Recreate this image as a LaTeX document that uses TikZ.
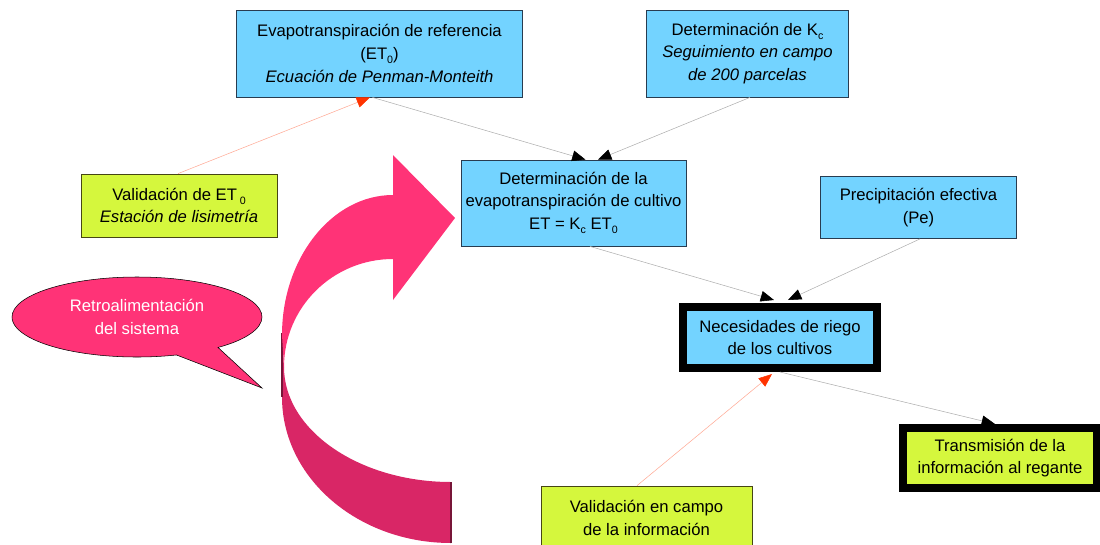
\documentclass[tikz,border=0pt]{standalone}
\usepackage{fontspec}
\setmainfont{Liberation Sans}
\usetikzlibrary{arrows.meta,shapes.callouts}
\definecolor{skyfill}{RGB}{115,211,255}
\definecolor{limefill}{RGB}{213,247,61}
\definecolor{hotpink}{RGB}{255,51,119}
\definecolor{deeppink}{RGB}{217,38,102}
\definecolor{boxedge}{RGB}{40,60,80}
\definecolor{oliveedge}{RGB}{70,70,20}
\definecolor{wire}{RGB}{175,175,175}
\definecolor{wirered}{RGB}{255,170,150}
\definecolor{tipred}{RGB}{255,51,0}
\newcommand{\low}[1]{\raisebox{-0.5ex}{\footnotesize #1}}

\begin{document}
\begin{tikzpicture}[x=0.75pt, y=-0.75pt,
	every node/.style={font=\fontsize{12.5}{17}\selectfont, align=center, inner sep=0pt},
	bluebox/.style={draw=boxedge, fill=skyfill, line width=0.6pt},
	limebox/.style={draw=oliveedge, fill=limefill, line width=0.6pt},
	heavy/.style={draw=black, line width=6pt},
	link/.style={draw=wire, line width=0.4pt, -{Triangle[length=10pt, width=8pt, color=black]}},
	check/.style={draw=wirered, line width=0.4pt, -{Triangle[length=10pt, width=8pt, color=tipred]}}]
		%%%%% START %%%%%
		\useasboundingbox (0,0) rectangle (1100,544);
		
		\fill[deeppink] (282,333) -- (282,397) .. controls (282,478) and (358,543) .. (451,543) -- (451,482) .. controls (359,482) and (284,430) .. (284,367) -- cycle;
		\draw[deeppink!55!black, line width=0.8pt] (282,333) -- (282,397);
		\draw[deeppink!55!black, line width=0.8pt] (451,482) -- (451,543);
		\fill[hotpink] (393,195) -- (393,155) -- (455,218) -- (393,300) -- (393,259) .. controls (333,259) and (284,307) .. (284,367) -- (282,335) .. controls (282,258) and (332,195) .. (393,195) -- cycle;
		
		\coordinate (fbtip) at (262,388);
		\node[ellipse callout, draw=black, fill=hotpink, text=white, minimum width=187.5pt, minimum height=60pt, callout absolute pointer={(fbtip)}, callout pointer arc=22] (fb) at (137,317) {Retroalimentación\\del sistema};
		
		\node[bluebox, minimum width=214.5pt, minimum height=65.25pt] (et0) at (379.5,53.5) {Evapotranspiración de referencia\\(ET\low{0})\\\textit{Ecuación de Penman-Monteith}};
		\node[bluebox, minimum width=151.5pt, minimum height=65.25pt] (kc) at (747.5,53.5) {Determinación de K\low{c}\\\textit{Seguimiento en campo}\\\textit{de 200 parcelas}};
		\node[limebox, minimum width=147pt, minimum height=47.25pt] (valet0) at (179,205.5) {Validación de ET\,\low{0}\\\textit{Estación de lisimetría}};
		\node[bluebox, minimum width=168.75pt, minimum height=64.5pt] (etc) at (573.5,203) {Determinación de la\\evapotranspiración de cultivo\\ET = K\low{c} ET\low{0}};
		\node[bluebox, minimum width=147pt, minimum height=46.5pt] (pe) at (918.5,207.5) {Precipitación efectiva\\(Pe)};
		
		\node[heavy, fill=skyfill, minimum width=145.5pt, minimum height=45.75pt] (need) at (780,337.5) {Necesidades de riego\\de los cultivos};
		\node[heavy, fill=limefill, minimum width=145.5pt, minimum height=45pt] (trans) at (1000,458) {Transmisión de la\\información al regante};
		\node[limebox, minimum width=158.25pt, minimum height=48pt] (valcampo) at (646.5,518) {Validación en campo\\de la información};
		
		\draw[check] ([shift={(-1,0)}]valet0.north) -- ([shift={(-9.5,0)}]et0.south);
		\draw[link] ([shift={(-7,0)}]et0.south) -- ([shift={(12,0)}]etc.north);
		\draw[link] ([shift={(2.5,0)}]kc.south) -- ([shift={(24.5,0)}]etc.north);
		\draw[link] ([shift={(16.5,0)}]etc.south) -- ([shift={(-6,-3)}]need.north);
		\draw[link] ([shift={(1.5,0)}]pe.south) -- ([shift={(8,-3)}]need.north);
		\draw[link] (need.south) -- ([shift={(-5,0)}]trans.north);
		\draw[check] ([shift={(-9.5,0)}]valcampo.north) -- ([shift={(-8,2)}]need.south);
		
		%%%%% END %%%%%
\end{tikzpicture}
\end{document}
